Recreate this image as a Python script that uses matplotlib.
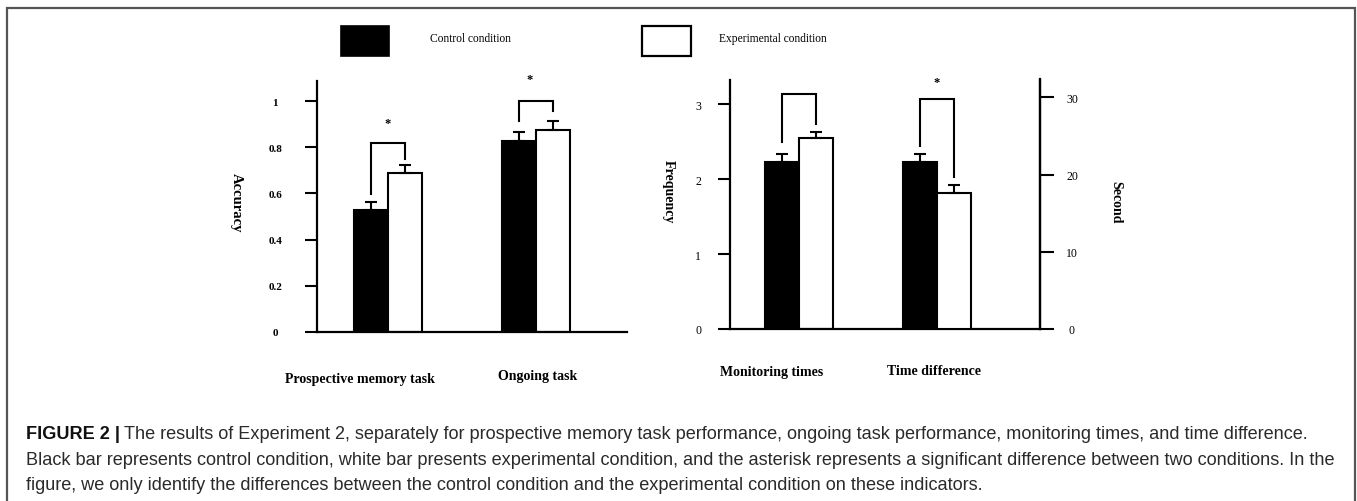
import matplotlib
matplotlib.use("Agg")
import matplotlib.pyplot as plt
from matplotlib.patches import Rectangle

# ---------------- data ----------------
left_categories = ["Prospective memory task", "Ongoing task"]
left_control = [0.528, 0.827]
left_control_err = [0.037, 0.037]
left_experimental = [0.688, 0.875]
left_experimental_err = [0.036, 0.037]
left_ticks = [0, 0.2, 0.4, 0.6, 0.8, 1]
left_ticklabels = ["0", "0.2", "0.4", "0.6", "0.8", "1"]

monitor_category = "Monitoring times"
monitor_control = 2.23
monitor_control_err = 0.11
monitor_experimental = 2.55
monitor_experimental_err = 0.08
freq_ticks = [0, 1, 2, 3]

timediff_category = "Time difference"
timediff_control = 21.6
timediff_control_err = 1.0
timediff_experimental = 17.6
timediff_experimental_err = 1.0
second_ticks = [0, 10, 20, 30]

legend_labels = ["Control condition", "Experimental condition"]
caption_bold = "FIGURE 2 |"
caption_lines = [
    "The results of Experiment 2, separately for prospective memory task performance, ongoing task performance, monitoring times, and time difference.",
    "Black bar represents control condition, white bar presents experimental condition, and the asterisk represents a significant difference between two conditions. In the",
    "figure, we only identify the differences between the control condition and the experimental condition on these indicators.",
]

# ---------------- figure ----------------
W, H = 1357, 502
fig = plt.figure(figsize=(W / 100, H / 100), dpi=100)
SERIF = ["Liberation Serif", "DejaVu Serif"]
SANS_N = ["Liberation Sans", "DejaVu Sans"]

def fx(px):
    return px / W

def fy(py):
    return 1 - py / H

# outer frame
fig.add_artist(Rectangle((fx(7), fy(520)), fx(1355) - fx(7), fy(9) - fy(520),
                         transform=fig.transFigure, fill=False,
                         edgecolor="#555555", linewidth=1.6, clip_on=False))

def style_axis(ax):
    for s in ["top", "right"]:
        ax.spines[s].set_visible(False)
    for s in ["left", "bottom"]:
        ax.spines[s].set_linewidth(1.6)
    ax.tick_params(axis="y", direction="out", length=9, width=1.5)
    ax.tick_params(axis="x", length=0)
    ax.set_xticks([])

# ---------------- left panel ----------------
axL = fig.add_axes([fx(317), fy(333), fx(627) - fx(317), fy(82) - fy(333)])
style_axis(axL)
bw = 34 / 148
xs = [0, 1]
axL.set_xlim(-0.48, 1.615)
axL.set_ylim(0, 1.087)
for i, x in enumerate(xs):
    axL.bar(x - bw / 2, left_control[i], bw, color="black", edgecolor="black", linewidth=1.5, zorder=2)
    axL.bar(x + bw / 2, left_experimental[i], bw, color="white", edgecolor="black", linewidth=1.5, zorder=2)
    axL.errorbar([x - bw / 2], [left_control[i]], yerr=[[0], [left_control_err[i]]],
                 fmt="none", ecolor="black", elinewidth=1.5, capsize=4, capthick=1.5, zorder=3)
    axL.errorbar([x + bw / 2], [left_experimental[i]], yerr=[[0], [left_experimental_err[i]]],
                 fmt="none", ecolor="black", elinewidth=1.5, capsize=4, capthick=1.5, zorder=3)
axL.set_yticks(left_ticks)
axL.set_yticklabels(left_ticklabels, fontfamily=SERIF, fontweight="bold", fontsize=8)
axL.tick_params(axis="y", pad=21)
for t in axL.get_yticklabels():
    t.set_ha("center")
axL.set_ylabel("Accuracy", fontfamily=SERIF, fontweight="bold", fontsize=10.5,
               rotation=-90, labelpad=0)
axL.yaxis.set_label_coords((230 - 317) / 310, 0.52)

def bracket(ax, x0, x1, y0, ytop, y1, lw=1.5):
    ax.plot([x0, x0, x1, x1], [y0, ytop, ytop, y1], color="black", linewidth=lw,
            clip_on=False, zorder=4, solid_joinstyle="miter")

bracket(axL, 0 - bw / 2, 0 + bw / 2, 0.597, 0.818, 0.749)
bracket(axL, 1 - bw / 2, 1 + bw / 2, 0.913, 1.0, 0.957)
axL.text(0, 0.905, "*", ha="center", va="center", fontfamily=SERIF, fontweight="bold", fontsize=9)
axL.text(0.96, 1.095, "*", ha="center", va="center", fontfamily=SERIF, fontweight="bold", fontsize=9, clip_on=False)

lab_x = [(360 - 388) / 148, (538 - 388) / 148]
lab_y = [(333 - 380) / 251, (333 - 377) / 251]
for i, c in enumerate(left_categories):
    axL.text(lab_x[i], lab_y[i], c, transform=axL.get_xaxis_transform(), ha="center", va="center",
             fontfamily=SERIF, fontweight="bold", fontsize=10)

# ---------------- right panel ----------------
axR = fig.add_axes([fx(730), fy(330), fx(1040) - fx(730), fy(80.5) - fy(330)])
style_axis(axR)
axR.spines["right"].set_visible(True)
axR.spines["right"].set_linewidth(1.6)
bw2 = 34 / 138
axR.set_xlim(-0.5, 1.746)
axR.set_ylim(0, 3.33)
axR.bar(0 - bw2 / 2, monitor_control, bw2, color="black", edgecolor="black", linewidth=1.5, zorder=2)
axR.bar(0 + bw2 / 2, monitor_experimental, bw2, color="white", edgecolor="black", linewidth=1.5, zorder=2)
axR.errorbar([0 - bw2 / 2], [monitor_control], yerr=[[0], [monitor_control_err]],
             fmt="none", ecolor="black", elinewidth=1.5, capsize=4, capthick=1.5, zorder=3)
axR.errorbar([0 + bw2 / 2], [monitor_experimental], yerr=[[0], [monitor_experimental_err]],
             fmt="none", ecolor="black", elinewidth=1.5, capsize=4, capthick=1.5, zorder=3)
axR.set_yticks(freq_ticks)
axR.set_yticklabels([str(t) for t in freq_ticks], fontfamily=SERIF, fontsize=8.5)
axR.tick_params(axis="y", pad=14)
for t in axR.get_yticklabels():
    t.set_ha("center")
axR.set_ylabel("Frequency", fontfamily=SERIF, fontweight="bold", fontsize=10,
               rotation=-90, labelpad=0)
axR.yaxis.set_label_coords((662 - 730) / 310, (330 - 192) / 249.5)
bracket(axR, 0 - bw2 / 2, 0 + bw2 / 2, 2.5, 3.14, 2.74)

ax2 = axR.twinx()
ax2.set_ylim(0, 32.3)
for s in ["top", "left", "bottom"]:
    ax2.spines[s].set_visible(False)
ax2.spines["right"].set_linewidth(1.6)
ax2.bar(1 - bw2 / 2, timediff_control, bw2, color="black", edgecolor="black", linewidth=1.5, zorder=2)
ax2.bar(1 + bw2 / 2, timediff_experimental, bw2, color="white", edgecolor="black", linewidth=1.5, zorder=2)
ax2.errorbar([1 - bw2 / 2], [timediff_control], yerr=[[0], [timediff_control_err]],
             fmt="none", ecolor="black", elinewidth=1.5, capsize=4, capthick=1.5, zorder=3)
ax2.errorbar([1 + bw2 / 2], [timediff_experimental], yerr=[[0], [timediff_experimental_err]],
             fmt="none", ecolor="black", elinewidth=1.5, capsize=4, capthick=1.5, zorder=3)
ax2.set_yticks(second_ticks)
ax2.set_yticklabels([str(t) for t in second_ticks], fontfamily=SERIF, fontsize=8.5)
ax2.tick_params(axis="y", direction="out", length=10, width=1.5, pad=13)
for t in ax2.get_yticklabels():
    t.set_ha("center")
ax2.set_ylabel("Second", fontfamily=SERIF, fontweight="bold", fontsize=10,
               rotation=-90, labelpad=0)
ax2.yaxis.set_label_coords((1122 - 730) / 310, (330 - 202) / 249.5)
bracket(ax2, 1 - bw2 / 2, 1 + bw2 / 2, 23.7, 29.8, 19.7)
ax2.text(1.0, 32.0, "*", ha="center", va="center", fontfamily=SERIF, fontweight="bold", fontsize=9, clip_on=False)

axR.text((772 - 799) / 138, (330 - 373) / 249.5, monitor_category, transform=axR.get_xaxis_transform(),
         ha="center", va="center", fontfamily=SERIF, fontweight="bold", fontsize=10)
axR.text((934 - 799) / 138, (330 - 372) / 249.5, timediff_category, transform=axR.get_xaxis_transform(),
         ha="center", va="center", fontfamily=SERIF, fontweight="bold", fontsize=10)

# ---------------- legend ----------------
fig.add_artist(Rectangle((fx(341), fy(57)), fx(389) - fx(341), fy(27) - fy(57),
                         transform=fig.transFigure, facecolor="black", edgecolor="black", linewidth=1.2))
fig.add_artist(Rectangle((fx(642), fy(57)), fx(691) - fx(642), fy(27) - fy(57),
                         transform=fig.transFigure, facecolor="white", edgecolor="black", linewidth=1.6))
fig.text(fx(430), fy(39), legend_labels[0], ha="left", va="center", fontfamily=SERIF, fontsize=8.3)
fig.text(fx(719), fy(39), legend_labels[1], ha="left", va="center", fontfamily=SERIF, fontsize=8.3)

# ---------------- caption ----------------
cap_fs = 13.05
tb = fig.text(fx(26), fy(435), caption_bold, ha="left", va="center", fontfamily=SANS_N,
              fontweight="bold", fontsize=cap_fs, color="#111111")
fig.canvas.draw()
bb = tb.get_window_extent()
fig.text((bb.x1 + 4) / W, fy(435), caption_lines[0], ha="left", va="center", fontfamily=SANS_N,
         fontsize=cap_fs, color="#2a2a2a")
fig.text(fx(26), fy(460.5), caption_lines[1], ha="left", va="center", fontfamily=SANS_N,
         fontsize=cap_fs, color="#2a2a2a")
fig.text(fx(26), fy(486), caption_lines[2], ha="left", va="center", fontfamily=SANS_N,
         fontsize=cap_fs, color="#2a2a2a")

fig.savefig("out.png", dpi=100)
